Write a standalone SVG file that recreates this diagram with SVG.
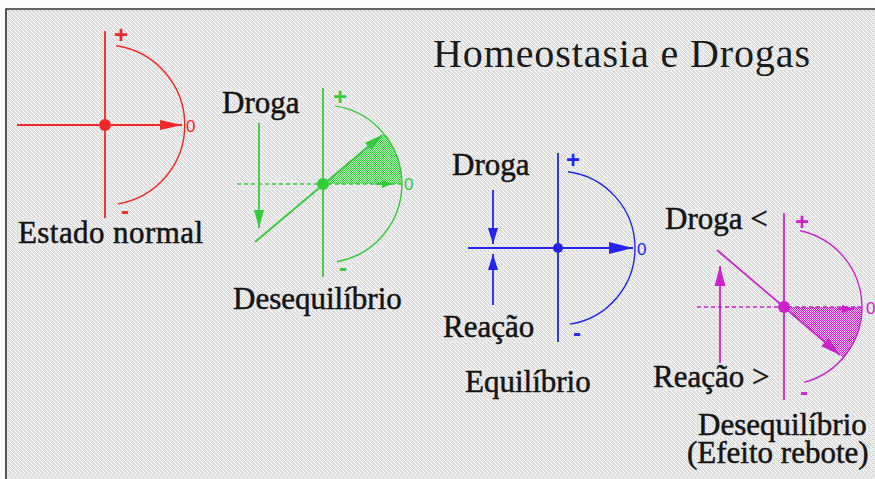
<svg xmlns="http://www.w3.org/2000/svg" width="875" height="479" viewBox="0 0 875 479">
<style>
.lbl{font-family:"Liberation Serif","Times New Roman",serif;font-size:31px;fill:#141414;stroke:#141414;stroke-width:0.5}
.title{font-family:"Liberation Serif","Times New Roman",serif;font-size:40px;fill:#1a1a1a}
.zero{font-family:"Liberation Sans",Arial,sans-serif;font-size:17px}
.sign{font-family:"Liberation Sans",Arial,sans-serif;font-size:24px;font-weight:bold;text-anchor:middle}
.ln{fill:none;stroke-width:1.8}
.arc{fill:none;stroke-width:1.4}
.dash{fill:none;stroke-width:1.5;stroke-dasharray:4 3}
.r{stroke:#f02828}.rf{fill:#f02828}
.g{stroke:#33cc3a}.gf{fill:#33cc3a}
.b{stroke:#2424ee}.bf{fill:#2424ee}
.m{stroke:#cc22cc}.mf{fill:#cc22cc}
</style>
<defs>
<pattern id="bg" width="4" height="4" patternUnits="userSpaceOnUse">
<rect width="4" height="4" fill="#dedede"/>
<rect x="0" y="0" width="1" height="1" fill="#fafafa"/>
<rect x="1" y="1" width="1" height="1" fill="#fafafa"/>
<rect x="2" y="2" width="1" height="1" fill="#fafafa"/>
<rect x="3" y="3" width="1" height="1" fill="#fafafa"/>
<rect x="3" y="1" width="1" height="1" fill="#f0f0f0"/>
</pattern>
<pattern id="gsh" width="2" height="2" patternUnits="userSpaceOnUse">
<rect width="2" height="2" fill="#bff0c0"/>
<rect x="0" y="0" width="1" height="1" fill="#33cc3a"/>
<rect x="1" y="1" width="1" height="1" fill="#33cc3a"/>
</pattern>
<pattern id="msh" width="2" height="2" patternUnits="userSpaceOnUse">
<rect width="2" height="2" fill="#f0c0f0"/>
<rect x="0" y="0" width="1" height="1" fill="#cc22cc"/>
<rect x="1" y="1" width="1" height="1" fill="#cc22cc"/>
</pattern>
<marker id="ar" markerUnits="userSpaceOnUse" markerWidth="24" markerHeight="14" refX="22" refY="7" orient="auto"><path d="M0,2 L22,7 L0,12 Z" fill="#f02828"/></marker>
<marker id="ag" markerUnits="userSpaceOnUse" markerWidth="20" markerHeight="14" refX="18" refY="7" orient="auto"><path d="M0,2 L18,7 L0,12 Z" fill="#33cc3a"/></marker>
<marker id="ags" markerUnits="userSpaceOnUse" markerWidth="12" markerHeight="10" refX="10" refY="5" orient="auto"><path d="M0,1 L10,5 L0,9 Z" fill="#33cc3a"/></marker>
<marker id="ab" markerUnits="userSpaceOnUse" markerWidth="26" markerHeight="16" refX="24" refY="8" orient="auto"><path d="M0,2 L24,8 L0,14 Z" fill="#2424ee"/></marker>
<marker id="abs" markerUnits="userSpaceOnUse" markerWidth="18" markerHeight="12" refX="16" refY="6" orient="auto"><path d="M0,1 L16,6 L0,11 Z" fill="#2424ee"/></marker>
<marker id="am" markerUnits="userSpaceOnUse" markerWidth="22" markerHeight="14" refX="20" refY="7" orient="auto"><path d="M0,1.5 L20,7 L0,12.5 Z" fill="#cc22cc"/></marker>
<marker id="ams" markerUnits="userSpaceOnUse" markerWidth="14" markerHeight="10" refX="12" refY="5" orient="auto"><path d="M0,1 L12,5 L0,9 Z" fill="#cc22cc"/></marker>
</defs>

<rect width="875" height="479" fill="#fbfbfb"/>
<rect x="6" y="9" width="869" height="470" fill="url(#bg)"/>
<path d="M6,479 V9 H875" fill="none" stroke="#303030" stroke-width="1.6"/>

<text class="title" x="433" y="67" textLength="377" lengthAdjust="spacing">Homeostasia e Drogas</text>

<g id="estado-normal">
<line class="ln r" x1="105" y1="31" x2="105" y2="218"/>
<path class="arc r" d="M116,45.8 A80,80 0 0 1 118,203.9"/>
<circle class="rf" cx="105" cy="125" r="6"/>
<text class="sign rf" x="121" y="43">+</text>
<text class="sign rf" x="125" y="219">-</text>
<text class="zero rf" x="186" y="132">0</text>
<text class="lbl" x="18" y="243" textLength="185" lengthAdjust="spacing">Estado normal</text>
</g>

<g id="desequilibrio">
<path d="M323,184 L383.8,133.6 A79,79 0 0 1 402,184 Z" fill="url(#gsh)"/>
<line class="ln g" x1="323" y1="88" x2="323" y2="277"/>
<path class="arc g" d="M335,105.9 A79,79 0 0 1 337,261.7"/>
<circle class="gf" cx="323" cy="184" r="6"/>
<text class="sign gf" x="340" y="105">+</text>
<text class="sign gf" x="343" y="276">-</text>
<text class="zero gf" x="404" y="190">0</text>
<text class="lbl" x="222" y="113">Droga</text>
<text class="lbl" x="233" y="309">Desequilíbrio</text>
</g>

<g id="equilibrio">
<line class="ln b" x1="558" y1="153" x2="558" y2="342"/>
<path class="arc b" d="M568,171.7 A77,77 0 0 1 570,324.1"/>
<circle class="bf" cx="558" cy="248" r="5"/>
<text class="sign bf" x="573" y="168">+</text>
<text class="sign bf" x="577" y="341">-</text>
<text class="zero bf" x="637" y="255">0</text>
<text class="lbl" x="452" y="175">Droga</text>
<text class="lbl" x="443" y="337">Reação</text>
<text class="lbl" x="465" y="392">Equilíbrio</text>
</g>

<g id="efeito-rebote">
<path d="M784,307 L862,307 A78,78 0 0 1 843.2,357.8 Z" fill="url(#msh)"/>
<line class="ln m" x1="784" y1="213" x2="784" y2="400"/>
<path class="arc m" d="M800,230.7 A78,78 0 0 1 804,382.4"/>
<circle class="mf" cx="784" cy="307" r="6"/>
<text class="sign mf" x="802" y="230">+</text>
<text class="sign mf" x="804" y="400">-</text>
<text class="zero mf" x="866" y="314">0</text>
<text class="lbl" x="665" y="229">Droga &lt;</text>
<text class="lbl" x="653" y="387">Reação &gt;</text>
<text class="lbl" x="698" y="435">Desequilíbrio</text>
<text class="lbl" x="687" y="463">(Efeito rebote)</text>
</g>

<g id="connectors">
<line class="ln r" x1="17" y1="125" x2="182" y2="125" marker-end="url(#ar)"/>
<line class="dash g" x1="237" y1="184" x2="403" y2="184"/>
<line class="ln g" x1="375" y1="184" x2="392" y2="184" marker-end="url(#ags)"/>
<line class="ln g" x1="255" y1="242" x2="382" y2="135" marker-end="url(#ag)"/>
<line class="ln g" x1="259" y1="123" x2="259" y2="228" marker-end="url(#ag)"/>
<line class="ln b" x1="468" y1="248" x2="633" y2="248" marker-end="url(#ab)"/>
<line class="ln b" x1="493" y1="190" x2="493" y2="244" marker-end="url(#abs)"/>
<line class="ln b" x1="493" y1="305" x2="493" y2="254" marker-end="url(#abs)"/>
<line class="dash m" x1="697" y1="307" x2="861" y2="307"/>
<line class="ln m" x1="838" y1="309" x2="854" y2="309" marker-end="url(#ams)"/>
<line class="ln m" x1="717" y1="250" x2="840" y2="355" marker-end="url(#am)"/>
<line class="ln m" x1="720" y1="363" x2="720" y2="266" marker-end="url(#am)"/>
</g>
</svg>
